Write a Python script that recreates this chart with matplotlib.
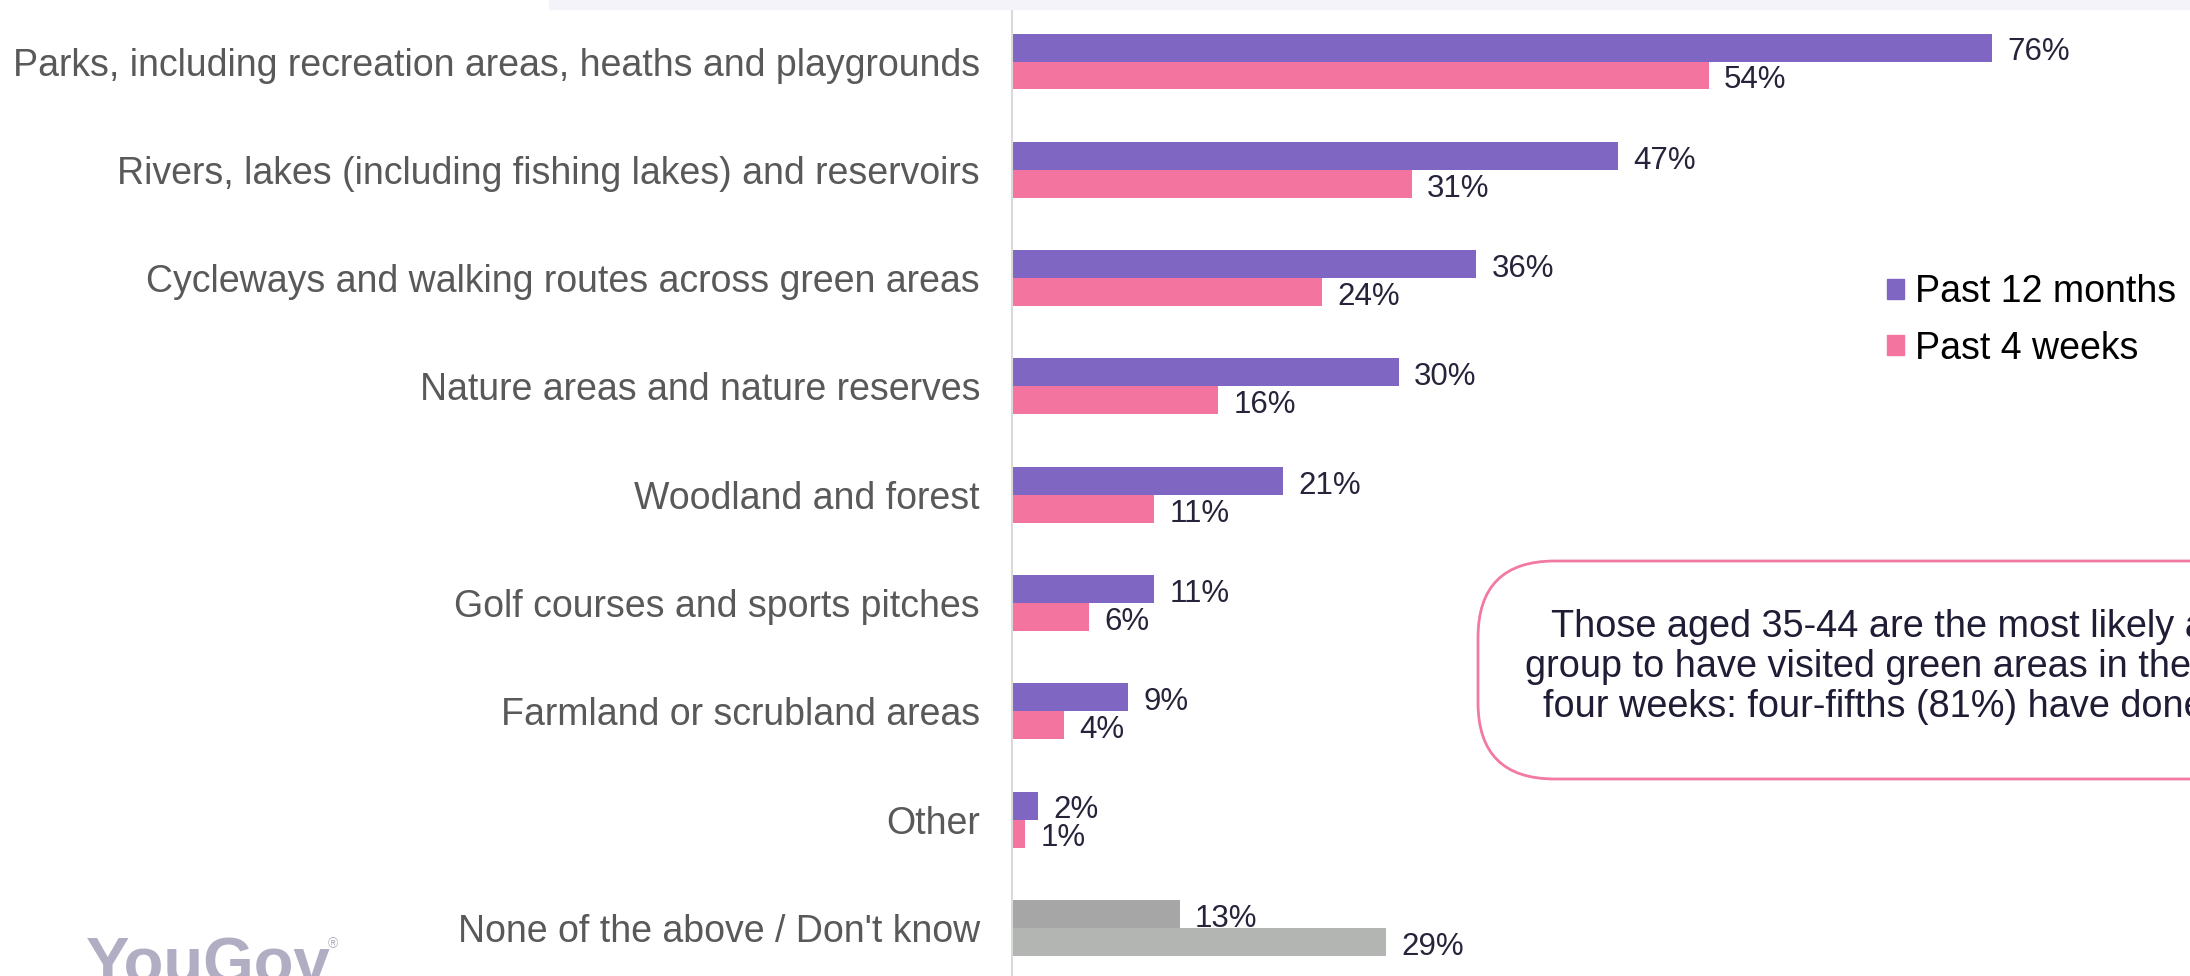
import matplotlib.pyplot as plt
from matplotlib.patches import FancyBboxPatch, Rectangle, Patch

categories = ['Parks, including recreation areas, heaths and playgrounds',
              'Rivers, lakes (including fishing lakes) and reservoirs',
              'Cycleways and walking routes across green areas',
              'Nature areas and nature reserves',
              'Woodland and forest',
              'Golf courses and sports pitches',
              'Farmland or scrubland areas',
              'Other',
              "None of the above / Don't know"]
past_12_months = [76, 47, 36, 30, 21, 11, 9, 2, 13]
past_4_weeks = [54, 31, 24, 16, 11, 6, 4, 1, 29]
series_names = ['Past 12 months', 'Past 4 weeks']

purple = '#7E66C2'
pink = '#F474A0'
grey_dark = '#A6A6A6'
grey_light = '#B3B5B2'
label_col = '#595959'
value_col = '#25243A'

W, H = 2190, 976
fig = plt.figure(figsize=(W / 100, H / 100), dpi=100)
fig.patch.set_facecolor('white')

# light band across the top
fig.patches.append(Rectangle((549 / W, 1 - 9 / H), 1 - 549 / W, 9 / H,
                             transform=fig.transFigure, color='#F4F3F9', zorder=0))

ax = fig.add_axes([1012 / W, 0, 1 - 1012 / W, 1 - 10 / H])
n = len(categories)
ys = list(range(n))
h = 0.2585
c12 = [purple] * (n - 1) + [grey_dark]
c4 = [pink] * (n - 1) + [grey_light]

b1 = ax.barh([y - h / 2 for y in ys], past_12_months, height=h, color=c12)
b2 = ax.barh([y + h / 2 for y in ys], past_4_weeks, height=h, color=c4)

for bars, vals in [(b1, past_12_months), (b2, past_4_weeks)]:
    for bar, v in zip(bars, vals):
        ax.annotate('{}%'.format(v), (bar.get_width(), bar.get_y() + bar.get_height() / 2),
                    xytext=(11, -3.5), textcoords='offset points', va='center', ha='left',
                    fontsize=22.5, color=value_col, family='Liberation Sans')

ax.set_xlim(0, (W - 1012) / 12.9)
ax.set_ylim((H - 61.5) / 108.3, -(61.5 - 10) / 108.3)
ax.set_yticks(ys)
ax.set_yticklabels(categories, fontsize=27, color=label_col, family='Liberation Sans')
ax.tick_params(axis='y', length=0, pad=23)
ax.set_xticks([])
for s in ['top', 'right', 'bottom']:
    ax.spines[s].set_visible(False)
ax.spines['left'].set_color('#D9D9D9')
ax.spines['left'].set_linewidth(1.5)

handles = [Patch(color=purple), Patch(color=pink)]
fig.legend(handles, series_names, loc='upper left', bbox_to_anchor=(1887 / W, 1 - 274 / H),
           frameon=False, prop={'family': 'Liberation Sans', 'size': 27},
           handlelength=0.45, handleheight=0.45, handletextpad=0.3,
           labelspacing=0.55, borderpad=0, borderaxespad=0)

# callout box
box = FancyBboxPatch((1478 / W, 1 - 779 / H), (2298 - 1478) / W, (779 - 561) / H,
                     boxstyle='round,pad=0,rounding_size=0.035', transform=fig.transFigure,
                     facecolor='white', edgecolor='#F279A3', linewidth=2, mutation_aspect=W / H)
fig.patches.append(box)
fig.text(1899 / W, 1 - 667 / H,
         'Those aged 35-44 are the most likely age\n'
         'group to have visited green areas in the past\n'
         'four weeks: four-fifths (81%) have done so',
         ha='center', va='center', fontsize=27.3, color='#1F1D36',
         family='Liberation Sans', linespacing=1.15)

# logo
fig.text(86 / W, 1 - 984 / H, 'YouGov', fontsize=47, fontweight='bold',
         color='#B1ADC2', family='Liberation Sans', va='baseline', ha='left')
fig.text(328 / W, 1 - 944 / H, '\u00ae', fontsize=10, color='#B1ADC2',
         family='Liberation Sans', va='center', ha='left')

fig.savefig('out.png', dpi=100)
